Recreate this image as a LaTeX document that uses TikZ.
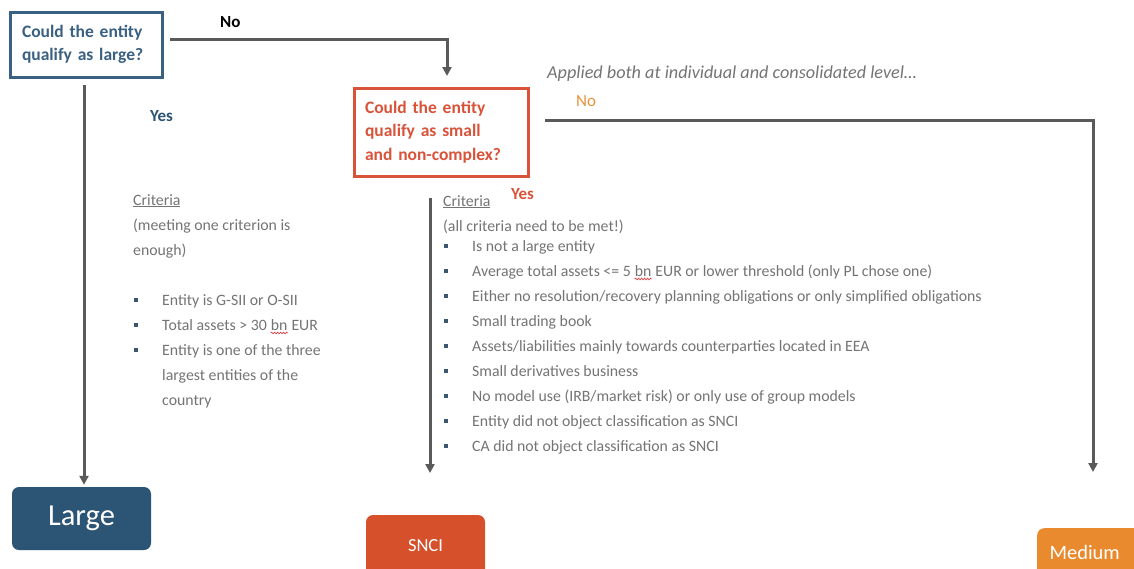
\documentclass[tikz,border=0pt]{standalone}
\usepackage{fontspec}
\setmainfont{Carlito}
\usetikzlibrary{arrows.meta,calc,decorations.pathmorphing}
\definecolor{slate}{HTML}{3A6082}
\definecolor{slatefill}{HTML}{2C5474}
\definecolor{redor}{HTML}{D9533A}
\definecolor{snci}{HTML}{D5502B}
\definecolor{orng}{HTML}{E8923A}
\definecolor{medfill}{HTML}{E98A2E}
\definecolor{txtgray}{HTML}{747474}
\definecolor{linegray}{HTML}{5A5A5A}
\definecolor{bullet}{HTML}{3B5670}
\definecolor{squig}{HTML}{E04040}
\tikzset{
  qbox/.style={draw, line width=3pt, inner sep=0pt, align=left,
    font=\fontsize{17.5}{23.5}\selectfont\bfseries},
  outbox/.style={rounded corners=7pt, text=white, inner sep=0pt},
  conn/.style={draw=linegray, line width=3pt, -{Triangle[width=9pt,length=9pt]}},
  crit/.style={anchor=base west, inner sep=0pt, text=txtgray, font=\fontsize{15.8}{17}\selectfont},
  bul/.style={fill=bullet, minimum size=4.5pt, inner sep=0pt},
  lbl/.style={anchor=base west, inner sep=0pt, font=\fontsize{17}{20}\selectfont\bfseries},
  spell/.style={draw=squig, line width=0.7pt, decorate, decoration={snake, amplitude=0.8pt, segment length=3pt}}
}
\begin{document}
\begin{tikzpicture}[x=1pt,y=-1pt]
\useasboundingbox (0,0) rectangle (1134,568);
\clip (0,0) rectangle (1134,568);
\fill[white] (0,0) rectangle (1134,568);

% question boxes
\node[qbox, draw=slate, text=slate, minimum width=152pt, minimum height=65pt, text width=128pt] (q1) at (86,44.5) {Could the entity\\qualify as large?};
\node[qbox, draw=redor, text=redor, minimum width=174pt, minimum height=88pt, text width=152pt] (q2) at (441,132) {Could the entity\\qualify as small\\and non-complex?};

% outcome boxes
\node[outbox, fill=slatefill, minimum width=139pt, minimum height=63pt, font=\fontsize{30.5}{32}\selectfont] (large) at (81.5,518.5) {Large};
\node[outbox, fill=snci, minimum width=119pt, minimum height=70pt, font=\fontsize{18.5}{20}\selectfont] (sncibox) at (425.5,550) {\raisebox{9pt}{SNCI}};
\node[outbox, fill=medfill, minimum width=110pt, minimum height=60pt, font=\fontsize{20.5}{22}\selectfont, anchor=north west] (medium) at (1037,528) {\hspace*{-3pt}\raisebox{12pt}{Medium}\hspace*{12pt}};

% connector helper points
\coordinate (c1s) at (170,39);
\coordinate (c1e) at (447,76);
\coordinate (c2s) at (545,120);
\coordinate (c2e) at (1093,472);
\coordinate (c3s) at (84,85);
\coordinate (c4s) at (430,198);
\coordinate (c4e) at (430,473);

\draw[conn] (c1s) -| (c1e);
\draw[conn] (c2s) -| (c2e);
\draw[conn] (c3s) -- ($(large.north)+(2.5,-2)$);
\draw[conn] (c4s) -- (c4e);

% labels
\node[lbl, text=black] (no1) at (220,27) {No};
\node[lbl, text=slatefill] (yes1) at (150,121) {Yes};
\node[lbl, text=orng, font=\fontsize{17}{20}\selectfont] (no2) at (576,106) {No};
\node[lbl, text=redor] (yes2) at (511,199) {Yes};
\node[anchor=base west, inner sep=0pt, text=txtgray, font=\fontsize{18.2}{20}\selectfont\itshape] (applied) at (547,78) {Applied both at individual and consolidated level\dots};

% left criteria
\node[crit] (lc0) at (133,205) {\underline{Criteria}};
\node[crit] (lc1) at (133,230) {(meeting one criterion is};
\node[crit] (lc2) at (133,255) {enough)};
\foreach \y [count=\i] in {305,330,355}{
  \node[bul] (lb\i) at (136,\y-5) {};
}
\node[crit] (lt1) at (162,305) {Entity is G-SII or O-SII};
\node[crit] (lt2a) at (162,330) {Total assets > 30\kern3.6pt};
\node[crit] (lt2b) at (lt2a.base east) {bn};
\node[crit] (lt2c) at (lt2b.base east) {\kern3.6pt EUR};
\draw[spell] ([yshift=-3pt]lt2b.base west) -- ([yshift=-3pt]lt2b.base east);
\node[crit] (lt3) at (162,355) {Entity is one of the three};
\node[crit] (lt4) at (162,380) {largest entities of the};
\node[crit] (lt5) at (162,405) {country};

% right criteria
\node[crit] (rc0) at (443,206) {\underline{Criteria}};
\node[crit] (rc1) at (443,231) {(all criteria need to be met!)};
\foreach \i in {1,...,9}{
  \node[bul] (rb\i) at (446,226+25*\i-5) {};
}
\node[crit] (rt1) at (472,251) {Is not a large entity};
\node[crit] (rt2a) at (472,276) {Average total assets <= 5\kern3.6pt};
\node[crit] (rt2b) at (rt2a.base east) {bn};
\node[crit] (rt2c) at (rt2b.base east) {\kern3.6pt EUR or lower threshold (only PL chose one)};
\draw[spell] ([yshift=-3pt]rt2b.base west) -- ([yshift=-3pt]rt2b.base east);
\foreach \t [count=\j from 3] in {
  {Either no resolution/recovery planning obligations or only simplified obligations},
  {Small trading book},
  {Assets/liabilities mainly towards counterparties located in EEA},
  {Small derivatives business},
  {No model use (IRB/market risk) or only use of group models},
  {Entity did not object classification as SNCI},
  {CA did not object classification as SNCI}}{
  \node[crit] (rt\j) at (472,226+25*\j) {\t};
}
\end{tikzpicture}
\end{document}
